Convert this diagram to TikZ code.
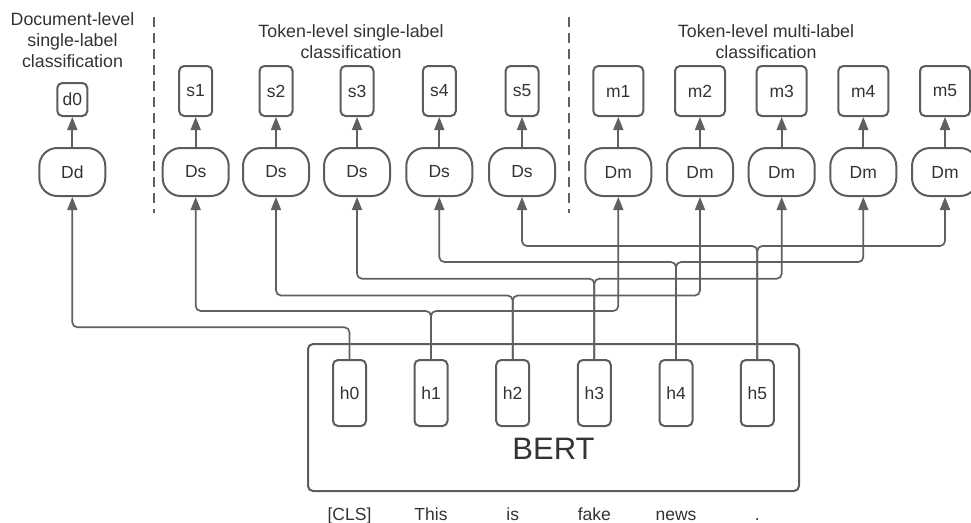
\documentclass[tikz,border=0pt]{standalone}
\usepackage{fontspec}
\setmainfont{Liberation Sans}
\usetikzlibrary{arrows.meta}
\definecolor{lc}{RGB}{96,96,96}
\definecolor{bc}{RGB}{92,92,92}
\definecolor{tc}{RGB}{51,51,51}
\begin{document}
\begin{tikzpicture}[x=1pt,y=-1pt,
  every node/.style={text=tc,font=\fontsize{17.5}{21}\selectfont,inner sep=0pt},
  dbox/.style={draw=bc,line width=2pt,rounded corners=18pt,minimum width=66pt,minimum height=48pt},
  sbox/.style={draw=bc,line width=2pt,rounded corners=5pt,minimum width=33pt,minimum height=50pt},
  mbox/.style={draw=bc,line width=2pt,rounded corners=5pt,minimum width=50pt,minimum height=50pt},
  hbox/.style={draw=bc,line width=2pt,rounded corners=5pt,minimum width=33pt,minimum height=66pt},
  conn/.style={draw=lc,line width=1.7pt,rounded corners=5pt,-{Triangle[width=10pt,length=13pt]}},
  sep/.style={draw=lc,line width=1.5pt,dash pattern=on 10pt off 6pt},
  title/.style={align=center,anchor=base,font=\fontsize{17.8}{21}\selectfont}]
\useasboundingbox (0,0) rectangle (971,522);

% titles
\node[title] (t1) at (72.5,67) {Document-level\\single-label\\classification};
\node[title] (t2) at (351,58) {Token-level single-label\\classification};
\node[title] (t3) at (766,58) {Token-level multi-label\\classification};

% separators
\coordinate (sa) at (154,17); \coordinate (sb) at (154,213);
\coordinate (sc) at (569,17); \coordinate (sd) at (569,213);
\draw[sep] (sa) -- (sb);
\draw[sep] (sc) -- (sd);

% BERT
\node[draw=bc,line width=2pt,rounded corners=5pt,minimum width=491pt,minimum height=147pt] (bert) at (553.5,417.5) {};
\node[font=\fontsize{31}{31}\selectfont,anchor=base] (bl) at (553.5,459) {BERT};

% h boxes and tokens
\foreach \i/\x/\t in {0/349.5/{[CLS]},1/431/This,2/512.7/is,3/594.3/fake,4/676/news,5/757.3/.}{
  \node[hbox] (h\i) at (\x,393) {h\i};
  \node[anchor=base] (w\i) at (\x,520) {\t};
}

% document level
\node[dbox] (Dd) at (72.3,172) {Dd};
\node[draw=bc,line width=2pt,rounded corners=5pt,minimum width=30pt,minimum height=33pt] (d0) at (72.3,99.5) {d0};
\draw[conn] (Dd) -- (d0);

% token single
\foreach \i/\x in {1/195.7,2/276,3/357,4/439.3,5/522}{
  \node[dbox] (Ds\i) at (\x,172) {Ds};
  \node[sbox] (s\i) at (\x,91) {s\i};
  \draw[conn] (Ds\i) -- (s\i);
}
% token multi
\foreach \i/\x in {1/618.3,2/700,3/781.7,4/863.3,5/945}{
  \node[dbox] (Dm\i) at (\x,172) {Dm};
  \node[mbox] (m\i) at (\x,91) {m\i};
  \draw[conn] (Dm\i) -- (m\i);
}

% connectors
\coordinate (j0) at (h0.north |- 0,327.3);
\draw[conn] (h0.north) -- (j0) -| (Dd.south);
\foreach \i/\y in {1/311,2/295.5,3/278.7,4/262,5/246}{
  \coordinate (j\i) at (h\i.north |- 0,\y);
  \draw[conn] (h\i.north) -- (j\i) -| (Ds\i.south);
  \draw[conn] (h\i.north) -- (j\i) -| (Dm\i.south);
}
\end{tikzpicture}
\end{document}
